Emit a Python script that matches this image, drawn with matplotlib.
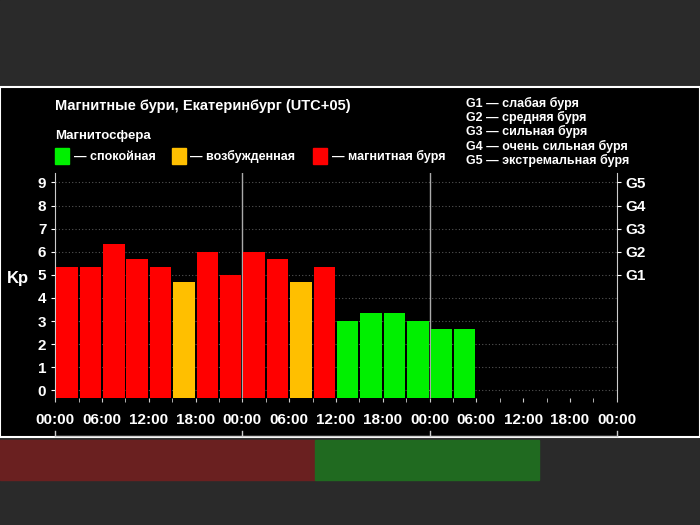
import matplotlib
matplotlib.use("Agg")
import matplotlib.pyplot as plt
from matplotlib.patches import Rectangle

kp = [5.33, 5.33, 6.33, 5.67, 5.33, 4.67, 6.0, 5.0, 6.0, 5.67, 4.67, 5.33,
      3.0, 3.33, 3.33, 3.0, 2.67, 2.67]
x_labels = ["00:00", "06:00", "12:00", "18:00"] * 3 + ["00:00"]
g_labels = ["G1", "G2", "G3", "G4", "G5"]
legend_g = ["G1 — слабая буря", "G2 — средняя буря", "G3 — сильная буря",
            "G4 — очень сильная буря", "G5 — экстремальная буря"]
RED, YEL, GRN = "#ff0000", "#ffbf00", "#00f000"

def color(v):
    if v >= 5: return RED
    if v >= 4: return YEL
    return GRN

plt.rcParams['font.family'] = ['Liberation Sans', 'DejaVu Sans']
fig = plt.figure(figsize=(7, 5.25), dpi=100, facecolor="black")
bg = [
    Rectangle((0, 440/525), 1, 85/525, color="#2a2a2a"),
    Rectangle((0, 0), 1, 88/525, color="#2a2a2a"),
    Rectangle((0, 45/525), 0.45, 40/525, color="#6a2020"),
    Rectangle((0.45, 45/525), 0.32, 40/525, color="#206a20"),
    Rectangle((0, 88/525), 1, 350/525, color="black", ec="white", lw=1.5),
]
for r in bg:
    r.set_transform(fig.transFigure)
    r.set_zorder(-10)
    fig.patches.append(r)

ax = fig.add_axes([0.079, 0.242, 0.802, 0.428], facecolor="black")
ax.set_zorder(5)
bottom = -0.33
for i, v in enumerate(kp):
    ax.bar(i * 3 + 1.5, v - bottom, bottom=bottom, width=2.75, color=color(v), zorder=3)
ax.set_xlim(0, 72)
ax.set_ylim(bottom, 9.4)
for y in range(0, 10):
    ax.axhline(y, color="#555555", lw=0.8, ls=(0, (1, 2)), zorder=1)
for xv in (24, 48):
    ax.axvline(xv, color="#aaaaaa", lw=1, zorder=2)
ax.set_xticks(range(0, 73, 6))
ax.set_xticklabels(x_labels)
ax.set_xticks(range(0, 73, 3), minor=True)
ax.set_yticks(range(10))
for s in ["top", "bottom"]:
    ax.spines[s].set_visible(False)
for s in ["left", "right"]:
    ax.spines[s].set_color("#cccccc")
ax.tick_params(colors="white", labelsize=11, length=3)
ax.tick_params(axis="x", which="both", color="#cccccc", pad=8, length=3)
for t in ax.get_xticklabels() + ax.get_yticklabels():
    t.set_fontweight("bold")
ax.set_ylabel("Kp", color="white", fontsize=12, fontweight="bold", rotation=0, labelpad=14)

ax2 = ax.twinx()
ax2.set_zorder(6)
ax2.set_ylim(ax.get_ylim())
ax2.set_yticks([5, 6, 7, 8, 9])
ax2.set_yticklabels(g_labels, fontweight="bold")
ax2.tick_params(colors="white", labelsize=11, length=3)
for s in ax2.spines.values():
    s.set_visible(False)

bx = ax.get_xaxis_transform()
ax.plot([0, 72], [-0.17, -0.17], color="#cccccc", lw=1, transform=bx, clip_on=False)
for xv in (0, 24, 48, 72):
    ax.plot([xv, xv], [-0.17, -0.145], color="#cccccc", lw=1, transform=bx, clip_on=False)

fig.text(0.079, 0.790, "Магнитные бури, Екатеринбург (UTC+05)", color="white", fontsize=10.5, fontweight="bold")
fig.text(0.079, 0.735, "Магнитосфера", color="white", fontsize=9.5, fontweight="bold")
items = [(0.079, GRN, "— спокойная"), (0.245, YEL, "— возбужденная"), (0.447, RED, "— магнитная буря")]
for x0, c, lab in items:
    fig.patches.append(Rectangle((x0, 0.688), 0.02, 0.03, transform=fig.transFigure, color=c))
    fig.text(x0 + 0.027, 0.695, lab, color="white", fontsize=9, fontweight="bold")
for k, lab in enumerate(legend_g):
    fig.text(0.665, 0.797 - k * 0.0275, lab, color="white", fontsize=9, fontweight="bold")

fig.savefig("out.png", dpi=100, facecolor=fig.get_facecolor())
